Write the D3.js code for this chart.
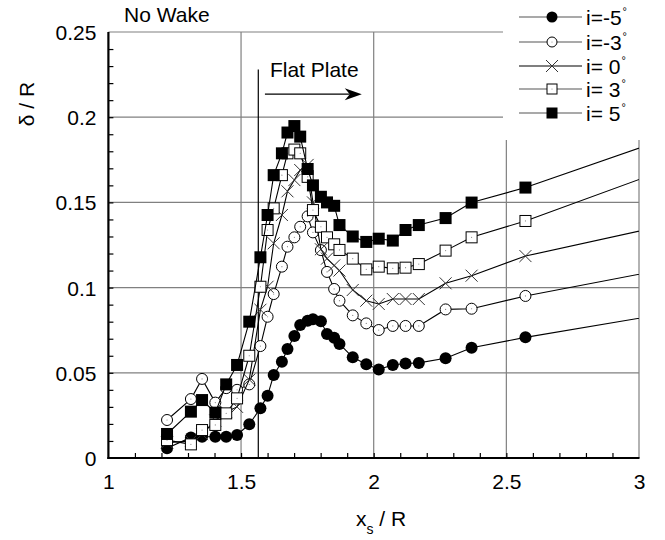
<!DOCTYPE html>
<html><head><meta charset="utf-8">
<script src="https://cdn.jsdelivr.net/npm/d3@7"></script>
<style>
html,body{margin:0;padding:0;background:#fff;}
svg{display:block;font-family:"Liberation Sans",Arial,Helvetica,sans-serif;}
</style></head>
<body>
<svg id="chart" width="665" height="540"></svg>
<script>
// ---- data ----
const xs = [1.221,1.311,1.353,1.403,1.444,1.485,1.531,1.573,1.600,1.623,1.654,1.675,1.701,1.723,1.751,1.771,1.801,1.824,1.851,1.871,1.921,1.972,2.019,2.072,2.120,2.170,2.271,2.369,2.572,3.15];
const iM5 = [0.0057,0.0121,0.0125,0.0125,0.0125,0.0135,0.0198,0.0292,0.0366,0.0487,0.0565,0.0640,0.0716,0.0780,0.0805,0.0814,0.0802,0.0728,0.0706,0.0669,0.0591,0.0550,0.0520,0.0546,0.0555,0.0558,0.0585,0.0647,0.0708,0.0859];
const iM3 = [0.0223,0.0346,0.0464,0.0325,0.0410,0.0400,0.0432,0.0657,0.0829,0.0962,0.1123,0.1240,0.1295,0.1357,0.1418,0.1324,0.1220,0.1092,0.0992,0.0923,0.0837,0.0790,0.0751,0.0775,0.0775,0.0775,0.0872,0.0876,0.0951,0.1123];
const i0  = [0.0090,0.0100,0.0140,0.0220,0.0270,0.0300,0.0460,0.0870,0.1005,0.1260,0.1426,0.1565,0.1631,0.1690,0.1720,0.1500,0.1225,0.1170,0.1130,0.1100,0.0986,0.0923,0.0904,0.0933,0.0933,0.0933,0.1025,0.1070,0.1185,0.1383];
const i3  = [0.0105,0.0080,0.0164,0.0194,0.0262,0.0350,0.0600,0.1005,0.1338,0.1465,0.1660,0.1788,0.1810,0.1788,0.1650,0.1455,0.1357,0.1295,0.1254,0.1221,0.1170,0.1107,0.1123,0.1113,0.1117,0.1138,0.1217,0.1295,0.1391,0.1720];
const i5  = [0.0141,0.0272,0.0340,0.0266,0.0432,0.0546,0.0800,0.1178,0.1426,0.1660,0.1788,0.1910,0.1948,0.1886,0.1696,0.1600,0.1533,0.1500,0.1480,0.1367,0.1300,0.1268,0.1287,0.1276,0.1338,0.1367,0.1408,0.1499,0.1587,0.1900];
const seriesNames = ["i=-5","i=-3","i= 0","i= 3","i= 5"];
const seriesMarkers = ["filledCircle","openCircle","cross","openSquare","filledSquare"];
const xTicks = [1,1.5,2,2.5,3];
const yTicks = [0,0.05,0.1,0.15,0.2,0.25];
const xGrid = [1.5,2,2.5,3];
const yGrid = [0.05,0.1,0.15,0.2,0.25];
const plateX = 1.565, plateTop = 0.228;
const arrowFrom = 1.59, arrowTo = 1.955, arrowY = 0.2135;

// ---- layout ----
const svg = d3.select("#chart");
const L = 108.4, R = 639, T = 32, B = 458;
const FS = 21;
const x = d3.scaleLinear().domain([1,3]).range([L,R]);
const y = d3.scaleLinear().domain([0,0.25]).range([B,T]);

svg.append("defs").append("clipPath").attr("id","plot")
  .append("rect").attr("x",L).attr("y",T-1).attr("width",R-L).attr("height",B-T+1);

// gridlines
const grid = svg.append("g").attr("stroke","#808080").attr("stroke-width",1.2);
grid.selectAll(".vx").data(xGrid).join("line")
  .attr("x1",d=>x(d)).attr("x2",d=>x(d)).attr("y1",y(0)).attr("y2",y(0.25));
grid.selectAll(".hy").data(yGrid).join("line")
  .attr("x1",x(1)).attr("x2",x(3)).attr("y1",d=>y(d)).attr("y2",d=>y(d));

// minor inward ticks
const xMinor = d3.range(11,30).map(d=>d/10);
const yMinor = d3.range(1,25).map(d=>d/100);
svg.append("g").attr("transform",`translate(0,${B})`)
  .call(d3.axisBottom(x).tickValues(xMinor).tickSize(-5).tickFormat(""))
  .call(g=>g.select(".domain").remove())
  .call(g=>g.selectAll("line").attr("stroke","#000").attr("stroke-width",1.2));
svg.append("g").attr("transform",`translate(${L},0)`)
  .call(d3.axisLeft(y).tickValues(yMinor).tickSize(-5).tickFormat(""))
  .call(g=>g.select(".domain").remove())
  .call(g=>g.selectAll("line").attr("stroke","#000").attr("stroke-width",1.2));

// tick labels
svg.append("g").attr("transform",`translate(0,${B})`)
  .call(d3.axisBottom(x).tickValues(xTicks).tickSize(0).tickPadding(0).tickFormat(d3.format("")))
  .call(g=>g.select(".domain").remove())
  .call(g=>g.selectAll("text").attr("font-size",FS).attr("fill","#000")
        .attr("font-family","Liberation Sans, Arial, sans-serif").attr("dy",null).attr("y",31));
svg.append("g").attr("transform",`translate(${L},0)`)
  .call(d3.axisLeft(y).tickValues(yTicks).tickSize(0).tickPadding(0).tickFormat(d3.format("")))
  .call(g=>g.select(".domain").remove())
  .call(g=>g.selectAll("text").attr("font-size",FS).attr("fill","#000")
        .attr("font-family","Liberation Sans, Arial, sans-serif").attr("x",-12).attr("dy","0.36em"));

// flat plate line and arrow
svg.append("line").attr("x1",x(plateX)).attr("x2",x(plateX)).attr("y1",y(0)).attr("y2",y(plateTop))
  .attr("stroke","#000").attr("stroke-width",1.2);
svg.append("line").attr("x1",x(arrowFrom)).attr("x2",x(arrowTo)-12).attr("y1",y(arrowY)).attr("y2",y(arrowY))
  .attr("stroke","#000").attr("stroke-width",1.2);
{
  const ax = x(arrowTo), ay = y(arrowY);
  svg.append("path").attr("d",`M${ax},${ay} L${ax-17},${ay-6} L${ax-12},${ay} L${ax-17},${ay+6} Z`).attr("fill","#000");
}
svg.append("text").attr("x",x(plateX)+56).attr("y",y(plateTop)+8).attr("text-anchor","middle")
  .attr("font-size",FS).text("Flat Plate");
svg.append("text").attr("x",124).attr("y",22).attr("font-size",FS).text("No Wake");

// series
const allSeries = [iM5,iM3,i0,i3,i5];
const plotG = svg.append("g").attr("clip-path","url(#plot)");
const line = d3.line().x(d=>x(d[0])).y(d=>y(d[1]));

function drawMarker(g, type, s) {
  const h = s/2;
  if (type==="filledCircle") g.append("circle").attr("r",h).attr("fill","#000");
  else if (type==="openCircle") {
    g.append("circle").attr("r",h-0.5).attr("fill","#fff").attr("stroke","#000").attr("stroke-width",1);
    g.append("circle").attr("r",0.6).attr("fill","#888");
  } else if (type==="cross") {
    g.append("path").attr("d",`M${-h},${-h}L${h},${h}M${-h},${h}L${h},${-h}`).attr("stroke","#333").attr("stroke-width",1);
  } else if (type==="openSquare") {
    g.append("rect").attr("x",-h+0.5).attr("y",-h+0.5).attr("width",s-1).attr("height",s-1)
      .attr("fill","#fff").attr("stroke","#000").attr("stroke-width",1);
    g.append("circle").attr("r",0.6).attr("fill","#888");
  } else if (type==="filledSquare") g.append("rect").attr("x",-h).attr("y",-h).attr("width",s).attr("height",s).attr("fill","#000");
}

allSeries.forEach((vals,k)=>{
  const pts = xs.map((xv,i)=>[xv,vals[i]]);
  const g = plotG.append("g");
  g.append("path").attr("d",line(pts)).attr("fill","none").attr("stroke","#000").attr("stroke-width",1.1);
  pts.forEach(p=>{
    const m = g.append("g").attr("transform",`translate(${x(p[0])},${y(p[1])})`);
    drawMarker(m, seriesMarkers[k], 12);
  });
});

// axes lines
svg.append("line").attr("x1",L).attr("x2",L).attr("y1",T).attr("y2",B+1).attr("stroke","#000").attr("stroke-width",2.2);
svg.append("line").attr("x1",L-1).attr("x2",R+0.5).attr("y1",B).attr("y2",B).attr("stroke","#000").attr("stroke-width",2.2);

// axis titles
const xt = svg.append("text").attr("x",356).attr("y",526).attr("font-size",FS);
xt.append("tspan").text("x");
xt.append("tspan").attr("font-size",14).attr("dy",8).text("s");
xt.append("tspan").attr("dy",-8).text(" / R");
svg.append("text").attr("transform","translate(34,104) rotate(-90)").attr("text-anchor","middle")
  .attr("font-size",FS).text("δ / R");

// legend
svg.append("rect").attr("x",503).attr("y",0).attr("width",162).attr("height",140).attr("fill","#fff");
const legY = [17,42,66,89,113];
seriesNames.forEach((nm,k)=>{
  const g = svg.append("g").attr("transform",`translate(0,${legY[k]})`);
  g.append("line").attr("x1",519).attr("x2",582).attr("y1",0).attr("y2",0)
    .attr("stroke", seriesMarkers[k]==="cross" ? "#000" : "#555").attr("stroke-width",1.2);
  const m = g.append("g").attr("transform","translate(552,0)");
  drawMarker(m, seriesMarkers[k], seriesMarkers[k]==="cross"?12:11);
  const t = g.append("text").attr("x",586).attr("y",7.5).attr("font-size",FS).attr("xml:space","preserve").style("white-space","pre");
  t.append("tspan").text(nm);
  t.append("tspan").attr("font-size",11).attr("dy",-10).attr("dx",1).text("°");
});
</script>
</body></html>
